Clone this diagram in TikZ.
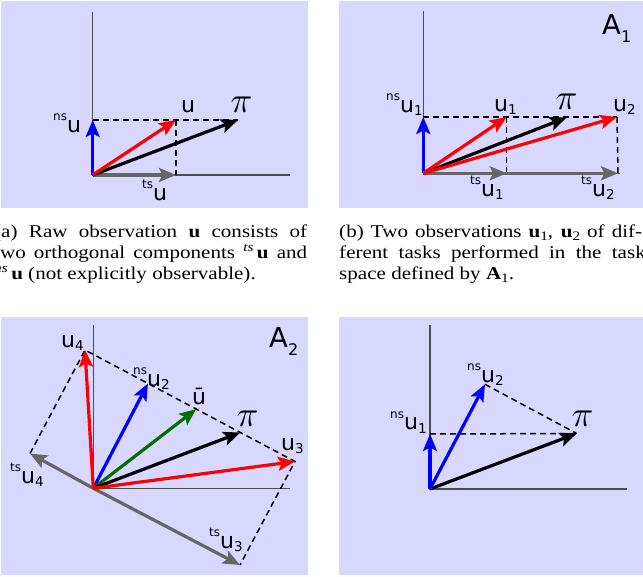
\documentclass[tikz,border=0pt]{standalone}
\usepackage{fontspec}
\setmainfont{Liberation Serif}
\newfontfamily\lf{DejaVu Sans}
\usetikzlibrary{arrows.meta,calc}
\definecolor{bgc}{HTML}{D7D7FF}
\definecolor{grayarr}{HTML}{666666}
\definecolor{axc}{HTML}{4D4D4D}
\definecolor{grn}{HTML}{006F00}
\newcommand{\lsup}[1]{\raisebox{12pt}{\fontsize{12}{12}\selectfont #1}}
\newcommand{\lsub}[1]{\raisebox{-3pt}{\fontsize{13.5}{13.5}\selectfont #1}}
\newcommand{\bsub}[1]{\raisebox{-8pt}{\fontsize{16}{16}\selectfont #1}}
\newcommand{\csup}[1]{\raisebox{7pt}{\fontsize{13}{13}\selectfont\itshape #1}\,}
\newcommand{\csub}[1]{\raisebox{-3pt}{\fontsize{13}{13}\selectfont #1}}
\tikzset{
  lab/.style={font=\lf\fontsize{22}{22}\selectfont, inner sep=0pt, anchor=base west},
  biglab/.style={font=\lf\fontsize{27.5}{27.5}\selectfont, inner sep=0pt, anchor=base west},
  pilab/.style={font=\fontsize{10}{10}\selectfont, scale=3.6, inner sep=0pt, anchor=base west},
  captxt/.style={font=\fontsize{18}{20}\selectfont, xscale=1.17, inner sep=0pt, anchor=base west},
  vec/.style={line width=3.2pt, -{Stealth[length=17pt,width=14pt,inset=3.5pt]}},
  axl/.style={axc, line width=1.2pt},
  dsh/.style={black, line width=1.5pt, dash pattern=on 6pt off 4pt},
}
\begin{document}
\begin{tikzpicture}[x=1pt,y=-1pt]
\useasboundingbox (0,0) rectangle (643,577);
% backgrounds
\fill[bgc] (1,1.5) rectangle (308,208);
\fill[bgc] (339,1.5) rectangle (643,208);
\fill[bgc] (1,317) rectangle (308,575);
\fill[bgc] (339,317) rectangle (643,575);

% ---------- panel a ----------
\coordinate (a0) at (92.7,175);
\coordinate (ay) at (92.7,12);
\coordinate (ax) at (290,175);
\coordinate (ans) at (92.7,120);
\coordinate (ats) at (176,175);
\coordinate (au) at (176,120);
\coordinate (api) at (238,120);
\draw[axl] (ay) -- (a0) -- (ax);
\draw[dsh] (ans) -- (api);
\draw[dsh] (au) -- (ats);
\draw[vec, grayarr] (a0) -- (ats);
\draw[vec, black] (a0) -- (api);
\draw[vec, blue] (a0) -- (ans);
\draw[vec, red] (a0) -- (au);
\node[lab] (la-u) at (181,113) {u};
\node[pilab] (la-pi) at (230,113) {$\pi$};
\node[lab] (la-ns) at (53,133) {\lsup{ns}u};
\node[lab] (la-ts) at (142,201) {\lsup{ts}u};

% ---------- panel b ----------
\coordinate (b0) at (423.3,173.3);
\coordinate (by) at (423.3,11);
\coordinate (bx) at (620,173.3);
\coordinate (bns) at (423.3,117);
\coordinate (bts1) at (506.7,173.3);
\coordinate (bts2) at (618,173.3);
\coordinate (bu1) at (506.7,117);
\coordinate (bu2) at (617,117);
\coordinate (bpi) at (566.7,117.5);
\draw[axl] (by) -- (b0) -- (bx);
\draw[dsh] (bns) -- (bu2);
\draw[dsh] (bu1) -- (bts1);
\draw[dsh] (bu2) -- (bts2);
\draw[vec, grayarr] (b0) -- (bts2);
\draw[vec, grayarr] (b0) -- (bts1);
\draw[vec, black] (b0) -- (bpi);
\draw[vec, blue] (b0) -- (bns);
\draw[vec, red] (b0) -- (bu1);
\draw[vec, red] (b0) -- (bu2);
\node[biglab] (lb-A) at (602,35) {A\bsub{1}};
\node[lab] (lb-u1) at (494,112) {u\lsub{1}};
\node[pilab] (lb-pi) at (555,110) {$\pi$};
\node[lab] (lb-u2) at (613,112) {u\lsub{2}};
\node[lab] (lb-ns) at (386,113) {\lsup{ns}u\lsub{1}};
\node[lab] (lb-ts1) at (470,197) {\lsup{ts}u\lsub{1}};
\node[lab] (lb-ts2) at (581,197) {\lsup{ts}u\lsub{2}};

% ---------- captions ----------
\node[captxt] (capa1) at (-6,238) {\makebox[267.5pt][s]{(a) Raw observation \textbf{u} consists of}};
\node[captxt] (capa2) at (-6,259) {\makebox[267.5pt][s]{two orthogonal components \csup{ts}\textbf{u} and}};
\node[captxt] (capa3) at (-6,280) {\csup{ns}\textbf{u} (not explicitly observable).};
\node[captxt] (capb1) at (339,238) {\makebox[259pt][s]{(b) Two observations \textbf{u}\csub{1}, \textbf{u}\csub{2} of dif-}};
\node[captxt] (capb2) at (339,259) {\makebox[262pt][s]{ferent tasks performed in the task}};
\node[captxt] (capb3) at (339,280) {space defined by \textbf{A}\csub{1}.};

% ---------- panel c ----------
\coordinate (c0) at (93.3,488.3);
\coordinate (cy) at (93.3,325);
\coordinate (cx) at (290,488.3);
\coordinate (cT4) at (30,453.5);
\coordinate (cT3) at (240,565);
\coordinate (cu4) at (85,350);
\coordinate (cu3) at (295,461.5);
\coordinate (cns) at ($(cu4)!0.30!(cu3)$);
\coordinate (cbar) at ($(cu4)!0.53!(cu3)$);
\coordinate (cpi) at ($(cu4)!0.74!(cu3)$);
\draw[axl] (cy) -- (c0) -- (cx);
\draw[dsh] (cT4) -- (cu4) -- (cu3) -- (cT3);
\draw[vec, grayarr] (c0) -- (cT3);
\draw[vec, grayarr] (c0) -- (cT4);
\draw[vec, blue] (c0) -- (cns);
\draw[vec, grn] (c0) -- (cbar);
\draw[vec, black] (c0) -- (cpi);
\draw[vec, red] (c0) -- (cu4);
\draw[vec, red] (c0) -- (cu3);
\node[biglab] (lc-A) at (269,348) {A\bsub{2}};
\node[lab] (lc-u4) at (61,348) {u\lsub{4}};
\node[lab] (lc-ns) at (133,387) {\lsup{ns}u\lsub{2}};
\node[lab] (lc-bar) at (192,405) {ū};
\node[pilab] (lc-pi) at (236,427) {$\pi$};
\node[lab] (lc-u3) at (281,450) {u\lsub{3}};
\node[lab] (lc-ts4) at (10,483) {\lsup{ts}u\lsub{4}};
\node[lab] (lc-ts3) at (209,548) {\lsup{ts}u\lsub{3}};

% ---------- panel d ----------
\coordinate (d0) at (430,489);
\coordinate (dy) at (430,325);
\coordinate (dx) at (627,489);
\coordinate (dns1) at (430,434);
\coordinate (dns2) at (485,384.3);
\coordinate (dpi) at (576.7,433.5);
\draw[axl] (dy) -- (d0) -- (dx);
\draw[dsh] (dns1) -- (dpi);
\draw[dsh] (dns2) -- (dpi);
\draw[vec, black] (d0) -- (dpi);
\draw[vec, blue] (d0) -- (dns1);
\draw[vec, blue] (d0) -- (dns2);
\node[lab] (ld-ns1) at (390,430) {\lsup{ns}u\lsub{1}};
\node[lab] (ld-ns2) at (467,383) {\lsup{ns}u\lsub{2}};
\node[pilab] (ld-pi) at (571,427) {$\pi$};
\end{tikzpicture}
\end{document}
